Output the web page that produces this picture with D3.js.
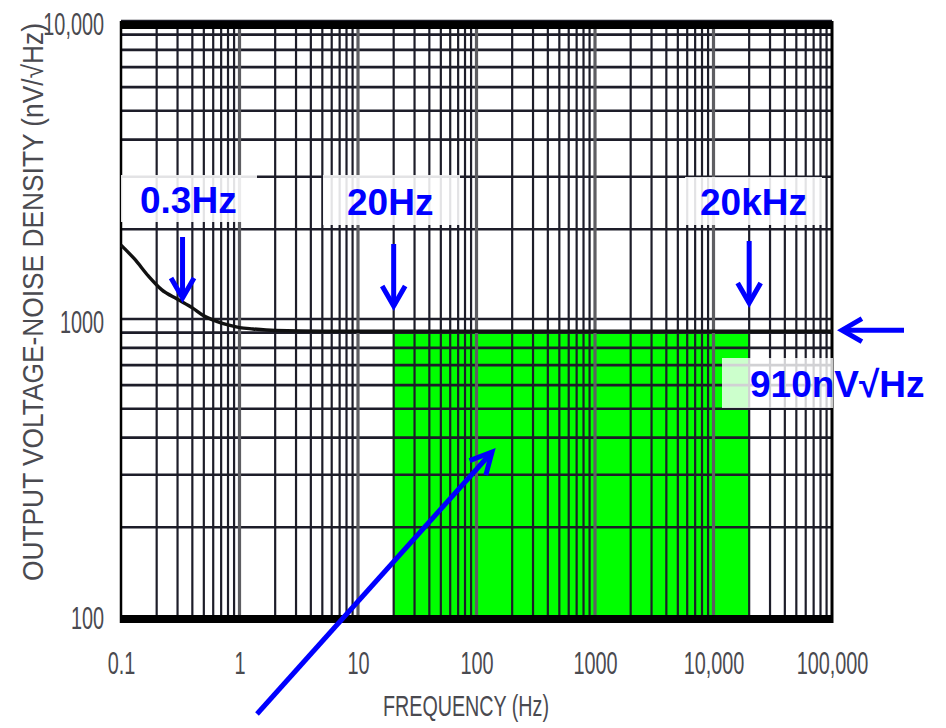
<!DOCTYPE html>
<html>
<head>
<meta charset="utf-8">
<script src="https://cdn.jsdelivr.net/npm/d3@7"></script>
<style>
  html, body { margin: 0; padding: 0; background: #ffffff; }
  svg { display: block; }
</style>
</head>
<body>
<svg id="chart" width="946" height="728"></svg>
<script>
// ---------------- data ----------------
const xTickValues = [0.1, 1, 10, 100, 1000, 10000, 100000];
const xTickLabels = ["0.1", "1", "10", "100", "1000", "10,000", "100,000"];
const yTickValues = [100, 1000, 10000];
const yTickLabels = ["100", "1000", "10,000"];

// output voltage-noise density curve (Hz, nV/√Hz)
const curveFreq  = [0.1, 0.13, 0.17, 0.22, 0.3, 0.4, 0.5, 0.65, 0.8, 1, 1.3, 2, 5, 20, 100, 1000, 10000, 100000];
const curveNoise = [1770, 1590, 1395, 1255, 1165, 1090, 1025, 980, 955, 936, 926, 915, 910, 910, 910, 910, 910, 910];

// highlighted audio band
const bandFreq  = [20, 20000];
const bandNoise = [100, 910];

// annotations
const markerLabels = ["0.3Hz", "20Hz", "20kHz"];
const markerFreq   = [0.3, 20, 20000];
const floorLabel   = "910nV√Hz";
const floorValue   = 910;

const xTitle = "FREQUENCY (Hz)";
const yTitle = "OUTPUT VOLTAGE-NOISE DENSITY (nV/√Hz)";

// ---------------- layout ----------------
const svg = d3.select("#chart");
const x = d3.scaleLog().domain([0.1, 100000]).range([121, 832]);
const y = d3.scaleLog().domain([100, 10000]).range([617, 21]);

const gridDark = "#1d1d29";
const blue = "#0000ff";
const labelGrey = "#4a4a50";

// green band
svg.append("rect")
  .attr("x", x(bandFreq[0]))
  .attr("y", y(bandNoise[1]))
  .attr("width", x(bandFreq[1]) - x(bandFreq[0]))
  .attr("height", y(bandNoise[0]) - y(bandNoise[1]))
  .attr("fill", "#00ff00");

// grid values (1..9 per decade)
const gridX = [];
[0.1, 1, 10, 100, 1000, 10000].forEach(d => { for (let m = 1; m <= 9; m++) gridX.push(d * m); });
gridX.push(100000);
const gridY = [];
[100, 1000].forEach(d => { for (let m = 1; m <= 9; m++) gridY.push(d * m); });
gridY.push(10000);

const isDecade = v => Math.abs(Math.log10(v) - Math.round(Math.log10(v))) < 1e-9;

// horizontal grid
svg.append("g").selectAll("line").data(gridY).join("line")
  .attr("x1", x.range()[0]).attr("x2", x.range()[1])
  .attr("y1", d => y(d)).attr("y2", d => y(d))
  .attr("stroke", gridDark)
  .attr("stroke-width", 2.6);

// vertical grid
svg.append("g").selectAll("line").data(gridX.filter(v => v > 0.1 && v < 100000)).join("line")
  .attr("x1", d => x(d)).attr("x2", d => x(d))
  .attr("y1", y.range()[1]).attr("y2", y.range()[0])
  .attr("stroke", d => isDecade(d) ? "#5e5e62" : gridDark)
  .attr("stroke-width", d => isDecade(d) ? 3.2 : 2.2);

// frame
const x0 = x.range()[0], x1 = x.range()[1];
svg.append("rect").attr("x", x0 - 1).attr("y", y(10000)).attr("width", x1 - x0 + 2).attr("height", 8).attr("fill", "#000");
svg.append("rect").attr("x", x0 - 1).attr("y", y(100) - 2).attr("width", x1 - x0 + 2).attr("height", 8).attr("fill", "#000");
svg.append("line").attr("x1", x0).attr("x2", x0).attr("y1", y(10000)).attr("y2", y(100) + 6).attr("stroke", "#000").attr("stroke-width", 2.5);
svg.append("line").attr("x1", x1).attr("x2", x1).attr("y1", y(10000)).attr("y2", y(100) + 6).attr("stroke", "#000").attr("stroke-width", 3);

// curve
const line = d3.line().x((d, i) => x(curveFreq[i])).y((d, i) => y(curveNoise[i])).curve(d3.curveMonotoneX);
svg.append("path")
  .attr("d", line(curveFreq))
  .attr("fill", "none")
  .attr("stroke", "#111")
  .attr("stroke-width", 3.4);

// ---------------- axes (labels only) ----------------
const xAxis = d3.axisBottom(x).tickValues(xTickValues).tickFormat((d, i) => xTickLabels[i]).tickSize(0);
const gx = svg.append("g").attr("transform", `translate(0,${y(100)})`).call(xAxis);
gx.select(".domain").remove();
gx.selectAll("text")
  .attr("y", 57).attr("dy", null)
  .attr("font-family", "'Liberation Sans', Arial, sans-serif")
  .attr("font-size", 31)
  .attr("fill", labelGrey)
  .attr("transform", "scale(0.64,1)");

const yAxis = d3.axisLeft(y).tickValues(yTickValues).tickFormat((d, i) => yTickLabels[i]).tickSize(0);
const gy = svg.append("g").attr("transform", `translate(104,0)`).call(yAxis);
gy.select(".domain").remove();
gy.selectAll("text")
  .attr("x", 0).attr("dy", null)
  .attr("y", (d) => d === 100 ? 11 : 13)
  .attr("text-anchor", "end")
  .attr("font-family", "'Liberation Sans', Arial, sans-serif")
  .attr("font-size", 31)
  .attr("fill", labelGrey)
  .attr("transform", "scale(0.64,1)");

// axis titles
svg.append("text")
  .attr("x", 466).attr("y", 716)
  .attr("text-anchor", "middle")
  .attr("font-family", "'Liberation Sans', Arial, sans-serif")
  .attr("font-size", 29)
  .attr("fill", labelGrey)
  .attr("textLength", 166).attr("lengthAdjust", "spacingAndGlyphs")
  .text(xTitle);

svg.append("text")
  .attr("transform", "translate(43,302) rotate(-90) scale(1,1.25)")
  .attr("text-anchor", "middle")
  .attr("font-family", "'Liberation Sans', Arial, sans-serif")
  .attr("font-size", 23)
  .attr("fill", labelGrey)
  .attr("textLength", 558).attr("lengthAdjust", "spacingAndGlyphs")
  .text(yTitle);

// ---------------- annotations ----------------
function arrow(tipX, tipY, tailX, tailY, len = 23, ang = 30) {
  const a = Math.atan2(tailY - tipY, tailX - tipX);
  const r = ang * Math.PI / 180;
  const p1 = [tipX + len * Math.cos(a + r), tipY + len * Math.sin(a + r)];
  const p2 = [tipX + len * Math.cos(a - r), tipY + len * Math.sin(a - r)];
  const g = svg.append("g").attr("stroke", blue).attr("stroke-width", 5).attr("fill", "none");
  g.append("line").attr("x1", tailX).attr("y1", tailY).attr("x2", tipX).attr("y2", tipY);
  g.append("path").attr("d", `M${p1[0]},${p1[1]}L${tipX},${tipY}L${p2[0]},${p2[1]}`)
    .attr("stroke-linejoin", "miter").attr("stroke-linecap", "butt");
}

const boxes = [
  { x: 121, y: 175, w: 136, h: 47, tx: 140, ty: 213, top: 237, tip: 298 },
  { x: 323, y: 175, w: 137, h: 50, tx: 347, ty: 215, top: 244, tip: 306 },
  { x: 685, y: 177, w: 137, h: 48, tx: 700, ty: 215, top: 241, tip: 303 }
];
markerLabels.forEach((lab, i) => {
  const b = boxes[i];
  svg.append("rect").attr("x", b.x).attr("y", b.y).attr("width", b.w).attr("height", b.h)
    .attr("fill", "#ffffff").attr("fill-opacity", 0.88);
  svg.append("text").attr("x", b.tx).attr("y", b.ty)
    .attr("font-family", "'Liberation Sans', Arial, sans-serif")
    .attr("font-weight", "bold").attr("font-size", 37).attr("fill", blue)
    .text(lab);
  const ax = x(markerFreq[i]) + (i === 0 ? 5 : 0);
  arrow(ax, b.tip, ax, b.top);
});

// floor label
svg.append("rect").attr("x", 722).attr("y", 358).attr("width", 111).attr("height", 50)
  .attr("fill", "#ffffff").attr("fill-opacity", 0.8);
svg.append("text").attr("x", 750).attr("y", 397)
  .attr("font-family", "'Liberation Sans', Arial, sans-serif")
  .attr("font-weight", "bold").attr("font-size", 37).attr("fill", blue)
  .text(floorLabel);
arrow(842, y(floorValue) - 1, 904, y(floorValue) - 1);

// diagonal arrow into the band
arrow(492, 452, 257, 714, 24, 27);
</script>
</body>
</html>
